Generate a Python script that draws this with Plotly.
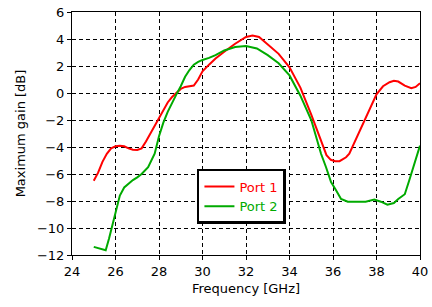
import plotly.graph_objects as go

freq_p1 = [25.0, 25.2, 25.4, 25.6, 25.8, 26.0, 26.2, 26.4, 26.6, 26.8, 27.0, 27.2, 27.4, 27.6, 27.8,
           28.0, 28.2, 28.4, 28.6, 28.8, 29.0, 29.2, 29.4, 29.6, 29.8, 30.0, 30.3, 30.6, 31.0, 31.5,
           32.0, 32.3, 32.6, 33.0, 33.5, 34.0, 34.5, 35.0, 35.5, 35.7, 35.9, 36.1, 36.3, 36.6, 36.75,
           37.0, 37.2, 37.6, 38.0, 38.3, 38.6, 38.8, 39.0, 39.3, 39.6, 39.8, 40.0]
port1 = [-6.5, -5.9, -5.1, -4.5, -4.1, -3.95, -3.9, -3.95, -4.1, -4.2, -4.22, -4.1, -3.6, -3.0, -2.4,
         -1.8, -1.2, -0.7, -0.3, 0.0, 0.3, 0.45, 0.5, 0.55, 1.0, 1.6, 2.1, 2.55, 3.05, 3.65,
         4.15, 4.25, 4.15, 3.6, 2.9, 1.9, 0.4, -1.6, -3.7, -4.6, -4.95, -5.05, -5.05, -4.76, -4.5,
         -3.6, -3.0, -1.5, -0.1, 0.5, 0.8, 0.9, 0.85, 0.55, 0.35, 0.45, 0.72]

freq_p2 = [25.0, 25.2, 25.4, 25.55, 25.7, 25.85, 26.0, 26.2, 26.4, 26.6, 26.8, 27.0, 27.2, 27.5, 27.8,
           28.0, 28.2, 28.4, 28.6, 28.8, 29.0, 29.2, 29.4, 29.6, 29.8, 30.0, 30.3, 30.6, 31.0, 31.5,
           32.0, 32.5, 33.0, 33.5, 34.0, 34.5, 35.0, 35.45, 35.68, 35.91, 36.14, 36.37, 36.68, 37.0,
           37.5, 37.9, 38.2, 38.5, 38.8, 39.0, 39.3, 39.5, 39.8, 40.0]
port2 = [-11.4, -11.5, -11.55, -11.65, -10.8, -9.8, -8.7, -7.6, -7.0, -6.7, -6.45, -6.25, -6.0, -5.5, -4.5,
         -3.2, -2.2, -1.4, -0.7, -0.1, 0.5, 1.2, 1.7, 2.1, 2.3, 2.45, 2.6, 2.8, 3.15, 3.4,
         3.48, 3.3, 2.8, 2.2, 1.3, -0.2, -2.0, -4.5, -5.5, -6.6, -7.2, -7.85, -8.05, -8.05,
         -8.05, -7.9, -8.05, -8.27, -8.15, -7.85, -7.5, -6.5, -5.0, -3.9]

x_ticks = [24, 26, 28, 30, 32, 34, 36, 38, 40]
y_ticks = [-12, -10, -8, -6, -4, -2, 0, 2, 4, 6]

RED = "#ff0000"
GREEN = "#00aa00"
FONT = "DejaVu Sans"

fig = go.Figure()
fig.add_trace(go.Scatter(x=freq_p1, y=port1, mode="lines", line=dict(color=RED, width=2),
                         name=f"<span style='color:{RED}'>Port 1</span>"))
fig.add_trace(go.Scatter(x=freq_p2, y=port2, mode="lines", line=dict(color=GREEN, width=2),
                         name=f"<span style='color:{GREEN}'>Port 2</span>"))

axis_common = dict(
    showline=True, linecolor="#000000", linewidth=1, mirror=True,
    showgrid=True, gridcolor="#000000", griddash="4px,3px", gridwidth=1,
    ticks="outside", ticklen=4, tickcolor="#000000",
    zeroline=False, automargin=False,
    tickfont=dict(family=FONT, size=13, color="#000000"),
)

fig.update_xaxes(range=[24, 40], tickvals=x_ticks,
                 title=dict(text="Frequency [GHz]", font=dict(family=FONT, size=13, color="#000000"), standoff=6),
                 **axis_common)
fig.update_yaxes(range=[-12, 6], tickvals=y_ticks,
                 title=dict(text="Maximum gain [dB]", font=dict(family=FONT, size=13, color="#000000"), standoff=8),
                 **axis_common)

fig.update_layout(
    width=432, height=307,
    margin=dict(l=72, r=12, t=12, b=52, autoexpand=False),
    paper_bgcolor="white", plot_bgcolor="white",
    font=dict(family=FONT, size=13, color="#000000"),
    legend=dict(x=0.359, y=0.354, xanchor="left", yanchor="top",
                bgcolor="white", bordercolor="#000000", borderwidth=2.5,
                font=dict(family=FONT, size=13), tracegroupgap=0),
    showlegend=True,
)

fig.write_html("out.html", config={"displayModeBar": False},
               post_script="document.body.style.margin='0';")
